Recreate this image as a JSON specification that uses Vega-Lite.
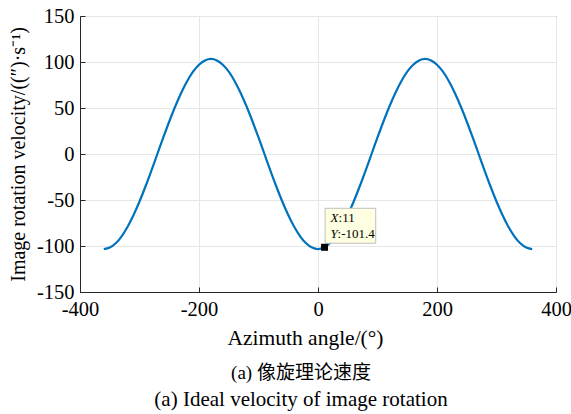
{
  "$schema": "https://vega.github.io/schema/vega-lite/v6.json",
  "width": 476,
  "height": 276,
  "autosize": {"type": "none"},
  "padding": {"left": 80, "top": 16, "right": 15, "bottom": 122},
  "background": "white",
  "config": {
    "font": "Liberation Serif",
    "view": {"stroke": "#262626", "strokeWidth": 1},
    "axis": {
      "labelFont": "Liberation Serif",
      "titleFont": "Liberation Serif",
      "labelFontSize": 20.5,
      "titleFontSize": 20,
      "labelColor": "#000000",
      "titleColor": "#000000",
      "titleFontWeight": "normal",
      "domainColor": "#262626",
      "tickColor": "#262626",
      "tickSize": -5,
      "gridColor": "#e6e6e6",
      "gridOpacity": 1,
      "labelExpr": "datum.value + ''"
    }
  },
  "title": {
    "text": "(a) 像旋理论速度",
    "subtitle": "(a) Ideal velocity of image rotation",
    "orient": "bottom",
    "anchor": "middle",
    "frame": "group",
    "dx": -17,
    "offset": 15,
    "font": "Liberation Serif, Noto Sans CJK SC",
    "fontSize": 19,
    "fontWeight": "normal",
    "color": "#000000",
    "subtitleFont": "Liberation Serif",
    "subtitleFontSize": 21,
    "subtitleColor": "#000000",
    "subtitlePadding": 6
  },
  "datasets": {
    "curve": [
      {"x": -360, "y": -103.3}, {"x": -350, "y": -101.73}, {"x": -340, "y": -97.07}, {"x": -330, "y": -89.46},
      {"x": -320, "y": -79.13}, {"x": -310, "y": -66.4}, {"x": -300, "y": -51.65}, {"x": -290, "y": -35.33},
      {"x": -280, "y": -17.94}, {"x": -270, "y": 0}, {"x": -260, "y": 17.94}, {"x": -250, "y": 35.33},
      {"x": -240, "y": 51.65}, {"x": -230, "y": 66.4}, {"x": -220, "y": 79.13}, {"x": -210, "y": 89.46},
      {"x": -200, "y": 97.07}, {"x": -190, "y": 101.73}, {"x": -180, "y": 103.3}, {"x": -170, "y": 101.73},
      {"x": -160, "y": 97.07}, {"x": -150, "y": 89.46}, {"x": -140, "y": 79.13}, {"x": -130, "y": 66.4},
      {"x": -120, "y": 51.65}, {"x": -110, "y": 35.33}, {"x": -100, "y": 17.94}, {"x": -90, "y": 0},
      {"x": -80, "y": -17.94}, {"x": -70, "y": -35.33}, {"x": -60, "y": -51.65}, {"x": -50, "y": -66.4},
      {"x": -40, "y": -79.13}, {"x": -30, "y": -89.46}, {"x": -20, "y": -97.07}, {"x": -10, "y": -101.73},
      {"x": 0, "y": -103.3}, {"x": 10, "y": -101.73}, {"x": 20, "y": -97.07}, {"x": 30, "y": -89.46},
      {"x": 40, "y": -79.13}, {"x": 50, "y": -66.4}, {"x": 60, "y": -51.65}, {"x": 70, "y": -35.33},
      {"x": 80, "y": -17.94}, {"x": 90, "y": 0}, {"x": 100, "y": 17.94}, {"x": 110, "y": 35.33},
      {"x": 120, "y": 51.65}, {"x": 130, "y": 66.4}, {"x": 140, "y": 79.13}, {"x": 150, "y": 89.46},
      {"x": 160, "y": 97.07}, {"x": 170, "y": 101.73}, {"x": 180, "y": 103.3}, {"x": 190, "y": 101.73},
      {"x": 200, "y": 97.07}, {"x": 210, "y": 89.46}, {"x": 220, "y": 79.13}, {"x": 230, "y": 66.4},
      {"x": 240, "y": 51.65}, {"x": 250, "y": 35.33}, {"x": 260, "y": 17.94}, {"x": 270, "y": 0},
      {"x": 280, "y": -17.94}, {"x": 290, "y": -35.33}, {"x": 300, "y": -51.65}, {"x": 310, "y": -66.4},
      {"x": 320, "y": -79.13}, {"x": 330, "y": -89.46}, {"x": 340, "y": -97.07}, {"x": 350, "y": -101.73},
      {"x": 360, "y": -103.3}
    ],
    "tip": [
      {"x": 11, "y": -101.4, "x1": 12, "x2": 97, "y1": -97, "y2": -59, "label": "X", "value": ":11", "label2": "Y", "value2": ":-101.4"}
    ]
  },
  "layer": [
    {
      "data": {"name": "curve"},
      "mark": {"type": "line", "color": "#0072BD", "strokeWidth": 2.2, "interpolate": "monotone"},
      "encoding": {
        "x": {
          "field": "x", "type": "quantitative",
          "scale": {"domain": [-400, 400], "nice": false},
          "axis": {"values": [-400, -200, 0, 200, 400], "title": "Azimuth angle/(°)", "titleFontSize": 21.5, "titlePadding": 8, "labelPadding": 12, "titleX": 225, "labelFlush": false}
        },
        "y": {
          "field": "y", "type": "quantitative",
          "scale": {"domain": [-150, 150], "nice": false},
          "axis": {"values": [-150, -100, -50, 0, 50, 100, 150], "title": "Image rotation velocity/((″)·s⁻¹)", "titlePadding": 8, "labelPadding": 11}
        }
      }
    },
    {
      "data": {"name": "tip"},
      "mark": {"type": "rect", "fill": "#ffffe1", "stroke": "#bfbfbf", "strokeWidth": 1},
      "encoding": {
        "x": {"field": "x1", "type": "quantitative"},
        "x2": {"field": "x2"},
        "y": {"field": "y1", "type": "quantitative"},
        "y2": {"field": "y2"}
      }
    },
    {
      "data": {"name": "tip"},
      "mark": {"type": "square", "color": "#000000", "filled": true, "size": 49, "opacity": 1},
      "encoding": {
        "x": {"field": "x", "type": "quantitative"},
        "y": {"field": "y", "type": "quantitative"}
      }
    },
    {
      "data": {"name": "tip"},
      "mark": {"type": "text", "align": "left", "baseline": "middle", "dx": 6, "dy": -29, "fontSize": 13, "fontStyle": "italic", "font": "Liberation Serif"},
      "encoding": {
        "x": {"field": "x", "type": "quantitative"},
        "y": {"field": "y", "type": "quantitative"},
        "text": {"field": "label"}
      }
    },
    {
      "data": {"name": "tip"},
      "mark": {"type": "text", "align": "left", "baseline": "middle", "dx": 14, "dy": -29, "fontSize": 13, "font": "Liberation Serif"},
      "encoding": {
        "x": {"field": "x", "type": "quantitative"},
        "y": {"field": "y", "type": "quantitative"},
        "text": {"field": "value"}
      }
    },
    {
      "data": {"name": "tip"},
      "mark": {"type": "text", "align": "left", "baseline": "middle", "dx": 6, "dy": -13, "fontSize": 13, "fontStyle": "italic", "font": "Liberation Serif"},
      "encoding": {
        "x": {"field": "x", "type": "quantitative"},
        "y": {"field": "y", "type": "quantitative"},
        "text": {"field": "label2"}
      }
    },
    {
      "data": {"name": "tip"},
      "mark": {"type": "text", "align": "left", "baseline": "middle", "dx": 13, "dy": -13, "fontSize": 13, "font": "Liberation Serif"},
      "encoding": {
        "x": {"field": "x", "type": "quantitative"},
        "y": {"field": "y", "type": "quantitative"},
        "text": {"field": "value2"}
      }
    }
  ]
}
